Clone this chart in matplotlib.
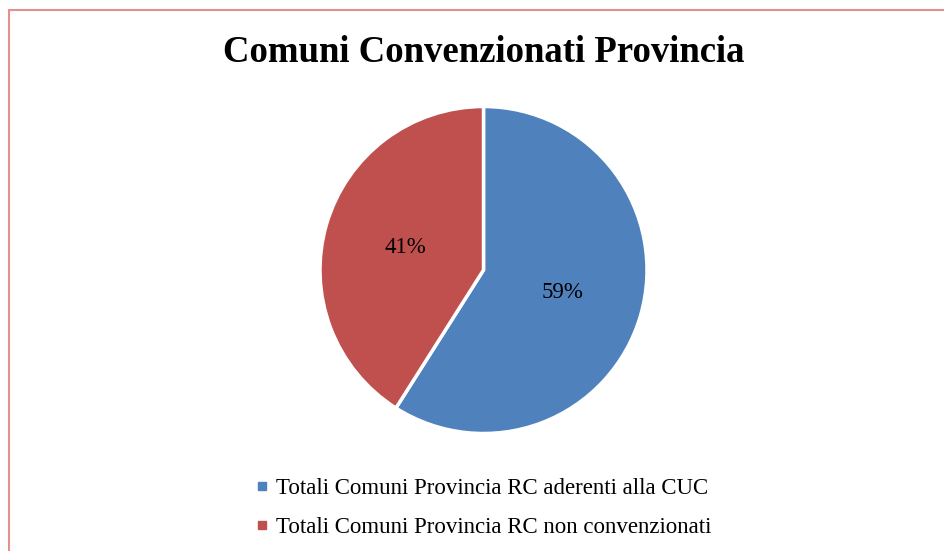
import matplotlib
matplotlib.use("Agg")
import matplotlib.pyplot as plt
from matplotlib.lines import Line2D
from matplotlib.patches import Rectangle

title = "Comuni Convenzionati Provincia"
categories = ["Totali Comuni Provincia RC aderenti alla CUC",
              "Totali Comuni Provincia RC non convenzionati"]
values = [59, 41]
colors = ["#4F81BD", "#C0504D"]

W, H = 944, 551
fig = plt.figure(figsize=(W / 100, H / 100), dpi=100)
plt.rcParams['font.family'] = ['Liberation Serif', 'DejaVu Serif']

# border
fig.patches.append(Rectangle((8.5 / W, -0.05), 1.2, 1 - 10 / H + 0.05,
                             transform=fig.transFigure, fill=False,
                             edgecolor="#E5908F", linewidth=1.5))

fig.text(483.5 / W, 1 - 62 / H, title, ha="center", va="baseline",
         fontsize=26.5, fontweight="bold", color="black")

cx, cy, r = 483.5, 270, 163.5
ax = fig.add_axes([(cx - r) / W, 1 - (cy + r) / H, 2 * r / W, 2 * r / H])
wedges, texts, autotexts = ax.pie(
    values, colors=colors, startangle=90, counterclock=False,
    autopct=lambda p: "%d%%" % round(p), pctdistance=0.5, radius=1,
    wedgeprops=dict(edgecolor="white", linewidth=2.5),
    textprops=dict(fontsize=16.5, color="black"))
ax.set_xlim(-1, 1)
ax.set_ylim(-1, 1)
ax.set_aspect("equal")
ax.axis("off")

handles = [Line2D([], [], marker="s", linestyle="", color=c, markersize=6)
           for c in colors]
fig.legend(handles, categories, loc="upper left",
           bbox_to_anchor=(255 / W, 1 - 478 / H), frameon=False,
           fontsize=16.5, handlelength=0.6, handletextpad=0.3,
           labelspacing=0.8, borderpad=0, borderaxespad=0)

fig.savefig("out.png", dpi=100)
